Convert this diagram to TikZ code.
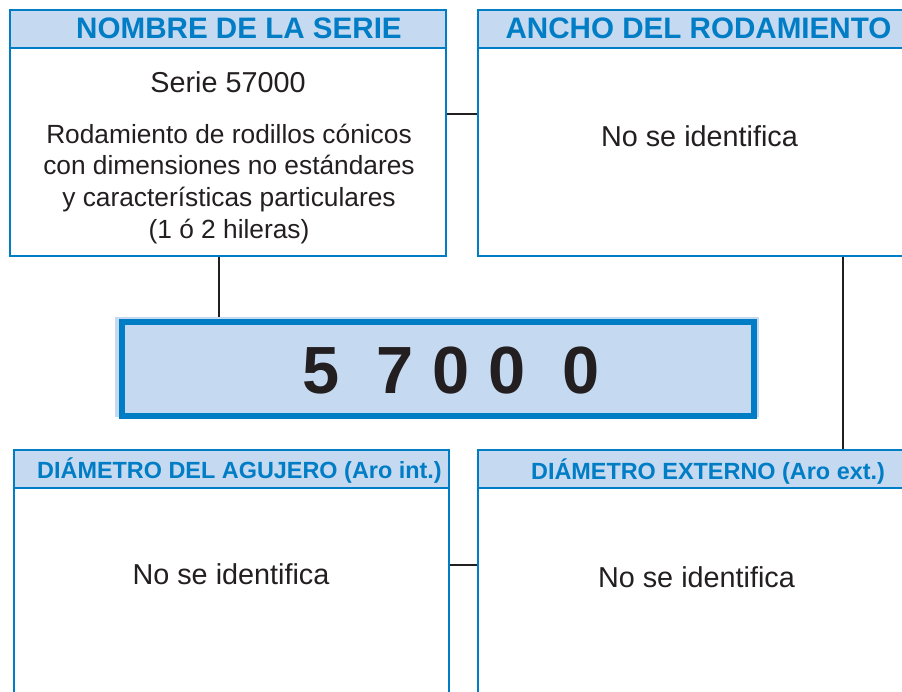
\documentclass[tikz,border=0pt]{standalone}
\usepackage{fontspec}
\setmainfont{Liberation Sans}
\usetikzlibrary{positioning, backgrounds}

\definecolor{azulSerie}{RGB}{0,125,197}
\definecolor{azulBanda}{RGB}{197,217,240}
\definecolor{tinta}{RGB}{35,31,32}

\begin{document}
\begin{tikzpicture}[
    x=1bp, y=-1bp,
    % --- STYLES ---
    panel/.style={rectangle, draw=azulSerie, line width=1.6bp, outer sep=0pt, inner sep=0pt, fill=white},
    band/.style={panel, fill=azulBanda, minimum height=38bp, anchor=north}, % title strip
    titulo/.style={text=azulSerie, font=\fontsize{29.7}{35}\selectfont\bfseries, anchor=base, inner sep=0pt},
    subtitulo/.style={titulo, font=\fontsize{23.5}{28}\selectfont\bfseries},
    texto/.style={text=tinta, font=\fontsize{28.9}{34}\selectfont, anchor=base, inner sep=0pt, align=center},
    link/.style={draw=tinta, line width=1.8bp}
]
\useasboundingbox (0,0) rectangle (902,692);
\clip (0,0) rectangle (902,692);

% --- 1. TOP PANELS ---
\node (nombre) [panel, minimum width=436bp, minimum height=246bp, anchor=north west] at (10,10) {};
\node (ancho) [panel, minimum width=444bp, minimum height=246bp, right=32bp of nombre] {};
\node (nombreBand) [band, minimum width=436bp] at (nombre.north) {};
\node (anchoBand) [band, minimum width=444bp] at (ancho.north) {};

\node (nombreTit) [titulo] at (239,39) {NOMBRE DE LA SERIE};
\node (anchoTit) [titulo] at (698.5,39) {ANCHO DEL RODAMIENTO};

\node (serie) [texto] at (228,93) {Serie 57000};
% base anchor sits on the last line here
\node (desc) [texto, font=\fontsize{26.4}{31.7}\selectfont] at (229,238)
    {Rodamiento de rodillos cónicos\\con dimensiones no estándares\\y características particulares\\(1 ó 2 hileras)};
\node (anchoTxt) [texto] at (699.5,147) {No se identifica};

% --- 2. CODE BOX ---
\node (halo) [rectangle, fill=azulBanda, minimum width=644bp, minimum height=100bp, anchor=north west] at (115,317) {};
\node (codigo) [panel, fill=azulBanda, line width=5.7bp, minimum width=632bp, minimum height=94bp, anchor=north west] at (122,322) {};
\node (numero) [text=tinta, font=\fontsize{67}{80}\selectfont\bfseries, anchor=base, inner sep=0pt] at (451,393) {5~~7 0 0~~0};

% --- 3. BOTTOM PANELS ---
\node (agujero) [panel, minimum width=435bp, minimum height=280bp, anchor=north west] at (14,450) {};
\node (externo) [panel, minimum width=444bp, minimum height=280bp, right=29bp of agujero] {};
\node (agujeroBand) [band, minimum width=435bp] at (agujero.north) {};
\node (externoBand) [band, minimum width=444bp] at (externo.north) {};

\node (agujeroTit) [subtitulo] at (239.5,478) {DIÁMETRO DEL AGUJERO (Aro int.)};
\node (externoTit) [subtitulo] at (708,479) {DIÁMETRO EXTERNO (Aro ext.)};

\node (agujeroTxt) [texto] at (231,584) {No se identifica};
\node (externoTxt) [texto] at (696.5,587) {No se identifica};

% --- LINKS ---
\begin{scope}[on background layer]
\draw [link] ([yshift=19bp]nombre.east) -- ([yshift=19bp]ancho.west);
\draw [link] ([xshift=-9bp]nombre.south) -- ([xshift=-9bp]nombre.south |- codigo.north);
\draw [link] ([xshift=143bp]ancho.south) -- ([xshift=143bp]ancho.south |- externo.north);
\draw [link] ([yshift=25bp]agujero.east) -- ([yshift=25bp]externo.west);
\end{scope}

\end{tikzpicture}
\end{document}
